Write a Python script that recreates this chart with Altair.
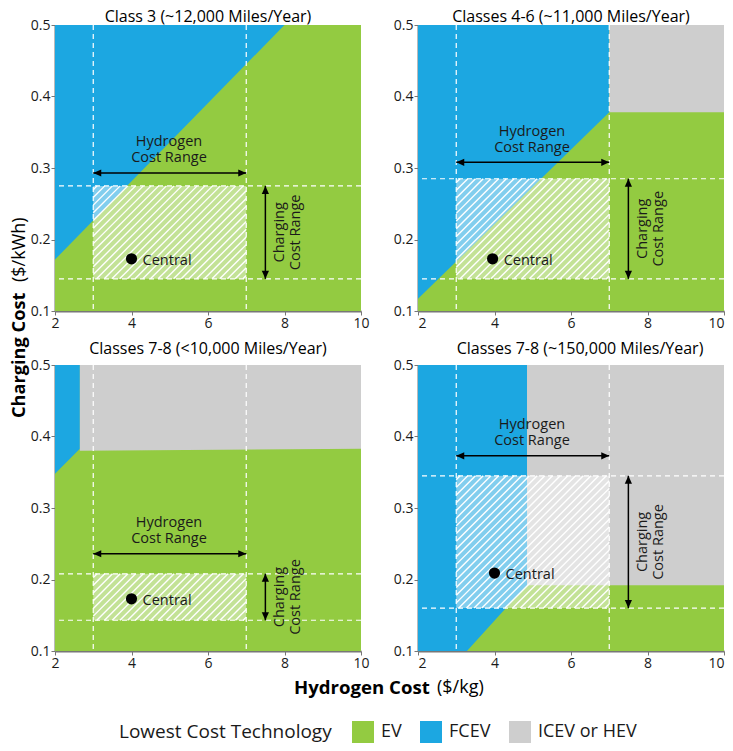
import altair as alt
import pandas as pd

GREEN = "#93CB41"
BLUE = "#1CA7E1"
GREY = "#CECECE"
FONT = "Open Sans"
TEXT = "#1a1a1a"

PANEL_W = 306
PANEL_H = 286
X_MIN, X_MAX = 2, 10
Y_MIN, Y_MAX = 0.1, 0.5

techs = ["EV", "FCEV", "ICEV or HEV"]
titles = [
    "Class 3 (~12,000 Miles/Year)",
    "Classes 4-6 (~11,000 Miles/Year)",
    "Classes 7-8 (<10,000 Miles/Year)",
    "Classes 7-8 (~150,000 Miles/Year)",
]

# region outlines, one (x, low, high) list per panel
blue_x = [[2, 8], [2, 7], [2, 2.65], [2, 3.28, 4.3, 4.85]]
blue_low = [[0.172, 0.5], [0.117, 0.378], [0.348, 0.383], [0.1, 0.1, 0.16, 0.192]]
blue_high = [[0.5, 0.5], [0.5, 0.5], [0.5, 0.5], [0.5, 0.5, 0.5, 0.5]]
grey_x = [[], [7, 10], [2.65, 10], [4.85, 10]]
grey_low = [[], [0.378, 0.378], [0.38, 0.383], [0.192, 0.192]]

# cost ranges
h2_low = [3, 3, 3, 3]
h2_high = [7, 7, 7, 7]
chg_low = [0.145, 0.145, 0.143, 0.16]
chg_high = [0.275, 0.285, 0.208, 0.345]
arrow_y = [0.293, 0.308, 0.236, 0.373]
central_y = [0.173, 0.173, 0.173, 0.209]
central_x = [4, 3.95, 4, 4]

xs = alt.Scale(domain=[X_MIN, X_MAX], nice=False)
ys = alt.Scale(domain=[Y_MIN, Y_MAX], nice=False)
colors = alt.Scale(domain=techs, range=[GREEN, BLUE, GREY])


def qx(field="x"):
    return alt.X(f"{field}:Q", scale=xs, title=None)


def qy(field="y"):
    return alt.Y(f"{field}:Q", scale=ys, title=None, stack=None)


def region(tech, x, low, high, flush, legend=None):
    df = pd.DataFrame({"x": x, "low": low, "high": high, "tech": tech})
    color = alt.Color(
        "tech:N",
        scale=colors,
        legend=legend,
    )
    return alt.Chart(df).mark_area(opacity=1).encode(
        x=alt.X(
            "x:Q",
            scale=xs,
            title=None,
            axis=alt.Axis(values=[2, 4, 6, 8, 10], format="d", labelFlush=flush),
        ),
        y=alt.Y(
            "low:Q",
            scale=ys,
            title=None,
            stack=None,
            axis=alt.Axis(values=[0.1, 0.2, 0.3, 0.4, 0.5], format=".1f"),
        ),
        y2="high:Q",
        color=color,
    )


def hatch(x0, x1, y0, y1, step=7.7):
    # 45 degree stripes on screen, clipped to the range box
    sx = PANEL_W / (X_MAX - X_MIN)
    sy = PANEL_H / (Y_MAX - Y_MIN)
    w = (x1 - x0) * sx
    h = (y1 - y0) * sy
    rows = []
    c = -h + step / 2
    while c < w:
        u0 = max(c, 0)
        u1 = min(c + h, w)
        if u1 > u0:
            rows.append(
                {
                    "x": x0 + u0 / sx,
                    "x2": x0 + u1 / sx,
                    "y": y0 + (u0 - c) / sy,
                    "y2": y0 + (u1 - c) / sy,
                }
            )
        c += step
    return pd.DataFrame(rows)


def head(x, y, path, size=64):
    df = pd.DataFrame({"x": [x], "y": [y]})
    return alt.Chart(df).mark_point(
        shape=path, filled=True, size=size, color="black", opacity=1
    ).encode(x=qx(), y=qy())


def label(text, x, y, size=14.5, **kw):
    df = pd.DataFrame({"x": [x], "y": [y], "t": [text]})
    return alt.Chart(df).mark_text(
        font=FONT, fontSize=size, color=TEXT, lineHeight=16, lineBreak="\n", **kw
    ).encode(x=qx(), y=qy(), text="t:N")


def outside_text(text, x, y, size, weight="normal", angle=0, align="left"):
    df = pd.DataFrame({"t": [text]})
    return alt.Chart(df).mark_text(
        font=FONT,
        fontSize=size,
        fontWeight=weight,
        color="black",
        align=align,
        baseline="middle",
        angle=angle,
    ).encode(x=alt.value(x), y=alt.value(y), text="t:N")


legend = alt.Legend(
    orient="none",
    legendX=64,
    legendY=696,
    direction="horizontal",
    title="Lowest Cost Technology",
    titleOrient="left",
    titleFont=FONT,
    titleFontSize=19,
    titleFontWeight="normal",
    titleColor=TEXT,
    titlePadding=20,
    titleLimit=300,
    labelFont=FONT,
    labelFontSize=18,
    labelColor=TEXT,
    labelOffset=7,
    symbolType="square",
    symbolSize=484,
    symbolStrokeWidth=0,
    symbolOpacity=1,
    columns=3,
    columnPadding=18,
    gridAlign="none",
)


def panel(i):
    flush = i % 2 == 1  # the right column has no room for a centred "10"
    layers = [region("EV", [X_MIN, X_MAX], [Y_MIN, Y_MIN], [Y_MAX, Y_MAX], flush, legend)]
    layers.append(region("FCEV", blue_x[i], blue_low[i], blue_high[i], flush, legend))
    if grey_x[i]:
        layers.append(
            region("ICEV or HEV", grey_x[i], grey_low[i], [Y_MAX] * len(grey_x[i]), flush, legend)
        )

    x0, x1, y0, y1 = h2_low[i], h2_high[i], chg_low[i], chg_high[i]
    box = pd.DataFrame({"x": [x0], "x2": [x1], "y": [y0], "y2": [y1]})
    layers.append(
        alt.Chart(box).mark_rect(color="white", opacity=0.45).encode(
            x=qx(), x2="x2:Q", y=qy(), y2="y2:Q"
        )
    )
    layers.append(
        alt.Chart(hatch(x0, x1, y0, y1)).mark_rule(color="white", strokeWidth=1.4).encode(
            x=qx(), x2="x2:Q", y=qy(), y2="y2:Q"
        )
    )

    # dashed range limits across the whole panel
    layers.append(
        alt.Chart(pd.DataFrame({"x": [x0, x1]}))
        .mark_rule(color="white", strokeWidth=1.2, strokeDash=[5, 4])
        .encode(x=qx())
    )
    layers.append(
        alt.Chart(pd.DataFrame({"y": [y0, y1]}))
        .mark_rule(color="white", strokeWidth=1.2, strokeDash=[5, 4])
        .encode(y=qy())
    )

    # hydrogen arrow
    ay = arrow_y[i]
    layers.append(
        alt.Chart(pd.DataFrame({"x": [x0], "x2": [x1], "y": [ay]}))
        .mark_rule(color="black", strokeWidth=1.5)
        .encode(x=qx(), x2="x2:Q", y=qy())
    )
    layers.append(head(x0, ay, "M0,0 L2,-0.9 L2,0.9 Z"))
    layers.append(head(x1, ay, "M0,0 L-2,-0.9 L-2,0.9 Z"))
    layers.append(label("Hydrogen\nCost Range", 4.98, ay + 0.043))

    # charging arrow
    layers.append(
        alt.Chart(pd.DataFrame({"x": [7.5], "y": [y0], "y2": [y1]}))
        .mark_rule(color="black", strokeWidth=1.5)
        .encode(x=qx(), y=qy(), y2="y2:Q")
    )
    layers.append(head(7.5, y1, "M0,0 L-0.9,2 L0.9,2 Z"))
    layers.append(head(7.5, y0, "M0,0 L-0.9,-2 L0.9,-2 Z"))
    layers.append(label("Charging\nCost Range", 7.88, (y0 + y1) / 2, angle=270))

    # central case
    cen = pd.DataFrame({"x": [central_x[i]], "y": [central_y[i]]})
    layers.append(
        alt.Chart(cen).mark_point(
            shape="circle", filled=True, color="black", size=125, opacity=1
        ).encode(x=qx(), y=qy())
    )
    layers.append(
        label("Central", central_x[i] + 0.29, central_y[i] - 0.003, align="left", baseline="middle")
    )

    # panel title as text so it can sit tight on the plot
    title_x = PANEL_W / 2 + (9 if i == 3 else 0)
    layers.append(outside_text(titles[i], title_x, -8 if i < 2 else -16, 16, align="center"))

    # shared axis titles live on their panels
    if i == 0:
        layers.append(outside_text("Charging Cost", -35, 393, 18.2, "bold", 270))
        layers.append(outside_text("($/kWh)", -35, 257, 18, angle=270))
    if i == 2:
        layers.append(outside_text("Hydrogen Cost", 239, 323, 18.6, "bold"))
        layers.append(outside_text("($/kg)", 382, 323, 18))

    return alt.layer(*layers).properties(width=PANEL_W, height=PANEL_H)


chart = (
    alt.concat(*[panel(i) for i in range(4)], columns=2, spacing={"row": 54, "column": 57}, bounds="flush")
    .properties(
        autosize=alt.AutoSizeParams(type="none"),
        padding={"left": 47, "top": 17, "right": 670, "bottom": 718},
    )
    .configure_view(stroke=None)
    .configure_axis(
        grid=False,
        domainColor="#777777",
        domainWidth=2,
        tickColor="#777777",
        tickSize=4,
        labelFont=FONT,
        labelFontSize=14,
        labelColor=TEXT,
        labelPadding=1,
    )
)

chart.save("out.html", embed_options={"renderer": "svg", "actions": False})
